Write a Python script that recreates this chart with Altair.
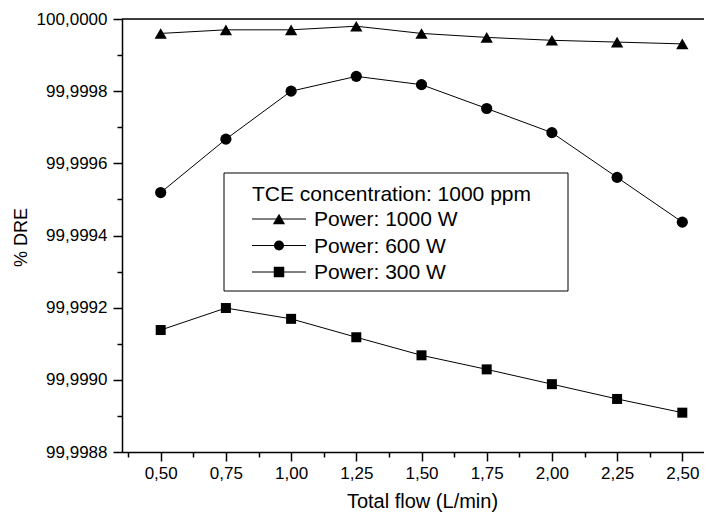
import altair as alt
import pandas as pd

flow = [0.50, 0.75, 1.00, 1.25, 1.50, 1.75, 2.00, 2.25, 2.50]
p1000 = [99.99996, 99.99997, 99.99997, 99.99998, 99.99996, 99.999949, 99.999941, 99.999936, 99.999931]
p600 = [99.999519, 99.999667, 99.999800, 99.999841, 99.999818, 99.999752, 99.999685, 99.999561, 99.999437]
p300 = [99.999138, 99.999199, 99.999169, 99.999118, 99.999068, 99.999029, 99.998988, 99.998947, 99.998909]
series = ["Power: 1000 W", "Power: 600 W", "Power: 300 W"]
shapes = ["triangle-up", "circle", "square"]
legend_title = "TCE concentration: 1000 ppm"

x_major = [0.50, 0.75, 1.00, 1.25, 1.50, 1.75, 2.00, 2.25, 2.50]
x_minor = [0.375, 0.625, 0.875, 1.125, 1.375, 1.625, 1.875, 2.125, 2.375]
y_major = [99.9988, 99.9990, 99.9992, 99.9994, 99.9996, 99.9998, 100.0]
y_minor = [99.9989, 99.9991, 99.9993, 99.9995, 99.9997, 99.9999]

rows = []
for name, vals in zip(series, [p1000, p600, p300]):
    for f, v in zip(flow, vals):
        rows.append({"series": name, "flow": f, "dre": v})
df = pd.DataFrame(rows)

W, H = 582, 433
FONT = "Liberation Sans"
marker_sizes = [150, 100, 110]

xscale = alt.Scale(domain=[0.3516, 0.3516 + W / 260.8], nice=False, zero=False)
yscale = alt.Scale(domain=[99.9988, 100.0], nice=False, zero=False)

common = dict(domainColor="black", domainWidth=1.5, tickColor="black", tickWidth=1.5,
              labelColor="black", labelFont=FONT, labelFontSize=17, grid=False,
              titleColor="black", titleFont=FONT, titleFontWeight="normal")

x_axis = alt.Axis(values=x_major, labelExpr="replace(format(datum.value, '.2f'), '.', ',')",
                  title="Total flow (L/min)", titleFontSize=20,
                  titleX=300, titleY=55, titleBaseline="alphabetic", titleAlign="center",
                  tickSize=9, labelPadding=4, orient="bottom", labelFlush=False, **common)
y_axis = alt.Axis(values=y_major, labelExpr="replace(format(datum.value, '.4f'), '.', ',')",
                  title="% DRE", titleFontSize=18,
                  titleX=-101, titleY=218, titleAngle=270, titleBaseline="middle", titleAlign="center",
                  tickSize=9, labelPadding=6, orient="left", labelFlush=False, **common)

lines = alt.Chart(df).mark_line(color="black", strokeWidth=1).encode(
    x=alt.X("flow:Q", scale=xscale, axis=x_axis),
    y=alt.Y("dre:Q", scale=yscale, axis=y_axis),
    detail="series:N",
)
points = alt.Chart(df).mark_point(filled=True, color="black", opacity=1).encode(
    x=alt.X("flow:Q", scale=xscale, axis=None),
    y=alt.Y("dre:Q", scale=yscale, axis=None),
    shape=alt.Shape("series:N", scale=alt.Scale(domain=series, range=shapes), legend=None),
    size=alt.Size("series:N", scale=alt.Scale(domain=series, range=marker_sizes), legend=None),
)
minor = alt.Chart(df).mark_point(opacity=0).encode(
    x=alt.X("flow:Q", scale=xscale, axis=alt.Axis(values=x_minor, labels=False, tickSize=5,
                                                   tickColor="black", tickWidth=1.5,
                                                   domain=False, grid=False, title=None, orient="bottom")),
    y=alt.Y("dre:Q", scale=yscale, axis=alt.Axis(values=y_minor, labels=False, tickSize=5,
                                                  tickColor="black", tickWidth=1.5,
                                                  domain=False, grid=False, title=None, orient="left")),
)

one = pd.DataFrame({"a": [0]})
top_line = alt.Chart(one).mark_rule(color="black", strokeWidth=1.5).encode(
    x=alt.value(0), x2=alt.value(W), y=alt.value(0))

box = alt.Chart(one).mark_rect(fill="white", stroke="black", strokeWidth=1).encode(
    x=alt.value(102), x2=alt.value(446), y=alt.value(154), y2=alt.value(272))
title_txt = alt.Chart(one).mark_text(text=legend_title, font=FONT, fontSize=21, align="left",
                                     baseline="alphabetic", color="black").encode(
    x=alt.value(130), y=alt.value(182))

legend_layers = [box, title_txt]
baselines = [207, 233.5, 260]
for name, shp, b, s in zip(series, shapes, baselines, marker_sizes):
    legend_layers.append(alt.Chart(one).mark_rule(color="black", strokeWidth=1).encode(
        x=alt.value(130), x2=alt.value(184), y=alt.value(b - 7)))
    legend_layers.append(alt.Chart(one).mark_point(shape=shp, filled=True, color="black",
                                                   opacity=1, size=s).encode(
        x=alt.value(157), y=alt.value(b - 7)))
    legend_layers.append(alt.Chart(one).mark_text(text=name, font=FONT, fontSize=21, align="left",
                                                  baseline="alphabetic", color="black").encode(
        x=alt.value(192), y=alt.value(b)))

chart = alt.layer(lines, points, minor, top_line, *legend_layers).resolve_axis(
    x="independent", y="independent"
).properties(
    width=W, height=H,
    autosize=alt.AutoSizeParams(type="none"),
    padding={"left": 114, "top": 11, "right": 0, "bottom": 60},
).configure_view(stroke=None).configure(background="white")

chart.save("out.html", embed_options={"renderer": "svg", "actions": False})
